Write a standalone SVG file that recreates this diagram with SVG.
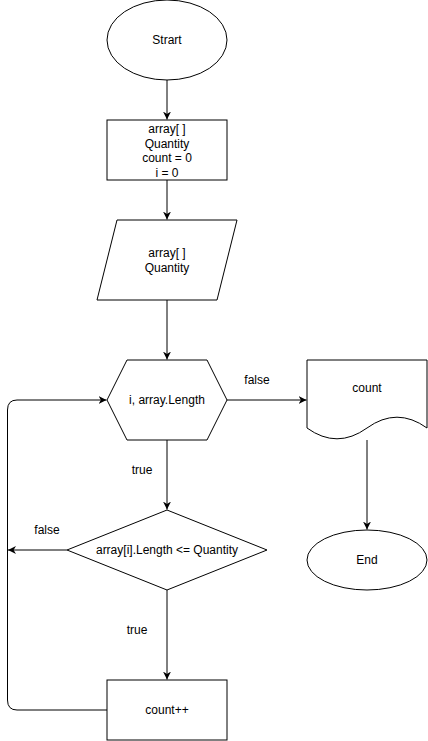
<svg xmlns="http://www.w3.org/2000/svg" width="428" height="741" viewBox="0 0 428 741">
<defs>
<style>
.s{fill:#fff;stroke:#000;stroke-width:1}
.c{fill:none;stroke:#000;stroke-width:1}
text{font-family:"Liberation Sans",Arial,sans-serif;font-size:12px;fill:#000;text-anchor:middle}
</style>
<marker id="ar" viewBox="0 0 10 10" refX="10" refY="5" markerWidth="8" markerHeight="8" markerUnits="userSpaceOnUse" orient="auto">
<path d="M0,0 L10,5 L0,10 L3,5 Z" fill="#000"/>
</marker>
</defs>
<rect width="428" height="741" fill="#fff"/>
<g id="connectors">
<path class="c" d="M167,80 V119.5" marker-end="url(#ar)"/>
<path class="c" d="M167,180 V219.5" marker-end="url(#ar)"/>
<path class="c" d="M167,300 V359.5" marker-end="url(#ar)"/>
<path class="c" d="M227,400 H306.5" marker-end="url(#ar)"/>
<path class="c" d="M367,440 V529.5" marker-end="url(#ar)"/>
<path class="c" d="M167,440 V509.5" marker-end="url(#ar)"/>
<path class="c" d="M67,550 H8" marker-end="url(#ar)"/>
<path class="c" d="M167,590 V679.5" marker-end="url(#ar)"/>
<path class="c" d="M107,710 H17 Q7.5,710 7.5,700 V410 Q7.5,400 17,400 H106.5" marker-end="url(#ar)"/>
<text x="257" y="384">false</text>
<text x="142" y="474">true</text>
<text x="47" y="534">false</text>
<text x="137" y="634">true</text>
</g>
<g id="start">
<ellipse class="s" cx="167" cy="40" rx="60" ry="40"/>
<text x="167" y="44">Strart</text>
</g>
<g id="init">
<rect class="s" x="107" y="120" width="120" height="60"/>
<text x="167" y="133">array[ ]</text>
<text x="167" y="148">Quantity</text>
<text x="167" y="162">count = 0</text>
<text x="167" y="177">i = 0</text>
</g>
<g id="input">
<polygon class="s" points="117,220 237,220 217,300 97,300"/>
<text x="167" y="257">array[ ]</text>
<text x="167" y="272">Quantity</text>
</g>
<g id="loop">
<polygon class="s" points="107,400 127,360 207,360 227,400 207,440 127,440"/>
<text x="167" y="404">i, array.Length</text>
</g>
<g id="output">
<path class="s" d="M307,360 H427 V428 Q397,406.4 367,428 Q337,449.6 307,428 Z"/>
<text x="367" y="392">count</text>
</g>
<g id="end">
<ellipse class="s" cx="367" cy="560" rx="60" ry="30"/>
<text x="367" y="564">End</text>
</g>
<g id="cond">
<polygon class="s" points="167,510 267,550 167,590 67,550"/>
<text x="167" y="554">array[i].Length &lt;= Quantity</text>
</g>
<g id="inc">
<rect class="s" x="107" y="680" width="120" height="60"/>
<text x="167" y="714">count++</text>
</g>
</svg>
